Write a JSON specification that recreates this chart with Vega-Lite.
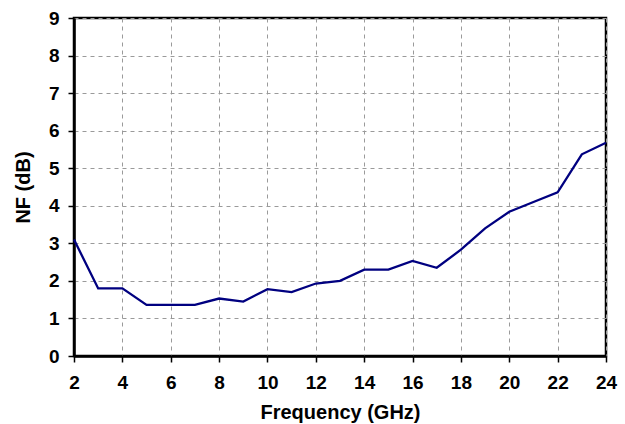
{
  "$schema": "https://vega.github.io/schema/vega-lite/v6.json",
  "width": 532,
  "height": 338,
  "autosize": {"type": "none"},
  "padding": {"left": 74, "top": 18, "right": 19, "bottom": 68},
  "background": "white",
  "config": {
    "view": {"stroke": "black", "strokeWidth": 2.5},
    "axis": {
      "labelFont": "Liberation Sans",
      "titleFont": "Liberation Sans",
      "labelFontWeight": "bold",
      "titleFontWeight": "bold",
      "labelFontSize": 19,
      "titleFontSize": 20,
      "labelColor": "black",
      "titleColor": "black",
      "domainColor": "black",
      "domainWidth": 2.5,
      "tickColor": "black",
      "tickWidth": 1.5,
      "tickSize": 6,
      "gridColor": "#9a9a9a",
      "gridDash": [4, 4],
      "gridWidth": 1
    }
  },
  "data": {
    "values": [
      {"f": 2, "nf": 3.1},
      {"f": 3, "nf": 1.8},
      {"f": 4, "nf": 1.8},
      {"f": 5, "nf": 1.36},
      {"f": 6, "nf": 1.36},
      {"f": 7, "nf": 1.36},
      {"f": 8, "nf": 1.53},
      {"f": 9, "nf": 1.45},
      {"f": 10, "nf": 1.78},
      {"f": 11, "nf": 1.7},
      {"f": 12, "nf": 1.93},
      {"f": 13, "nf": 2.0},
      {"f": 14, "nf": 2.3},
      {"f": 15, "nf": 2.3},
      {"f": 16, "nf": 2.53},
      {"f": 17, "nf": 2.35},
      {"f": 18, "nf": 2.83},
      {"f": 19, "nf": 3.4},
      {"f": 20, "nf": 3.84},
      {"f": 21, "nf": 4.1},
      {"f": 22, "nf": 4.36},
      {"f": 23, "nf": 5.37},
      {"f": 24, "nf": 5.68}
    ]
  },
  "mark": {"type": "line", "color": "#000080", "strokeWidth": 2.3},
  "encoding": {
    "x": {
      "field": "f",
      "type": "quantitative",
      "scale": {"domain": [2, 24], "nice": false, "zero": false},
      "axis": {"values": [2, 4, 6, 8, 10, 12, 14, 16, 18, 20, 22, 24], "title": "Frequency (GHz)", "labelPadding": 11, "titlePadding": 10, "labelFlush": false}
    },
    "y": {
      "field": "nf",
      "type": "quantitative",
      "scale": {"domain": [0, 9], "nice": false},
      "axis": {"values": [0, 1, 2, 3, 4, 5, 6, 7, 8, 9], "title": "NF (dB)", "labelPadding": 9, "titlePadding": 15, "labelFlush": false}
    }
  }
}
